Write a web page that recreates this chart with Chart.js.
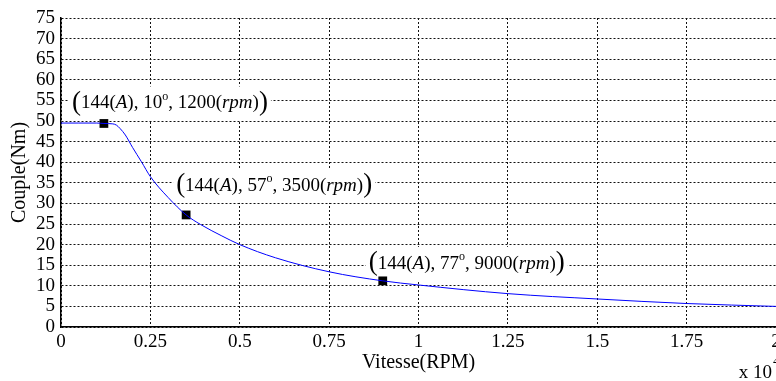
<!DOCTYPE html>
<html lang="fr">
<head>
    <meta charset="UTF-8">
    <title>Couple / Vitesse</title>
    <script src="https://cdn.jsdelivr.net/npm/chart.js@4.4.1/dist/chart.umd.min.js"></script>
    <style>
        body {
            margin: 0;
            background: #ffffff;
            overflow: hidden;
        }

        #wrap {
            position: relative;
            width: 800px;
            height: 381px;
        }
    </style>
</head>
<body>
    <div id="wrap"><canvas id="torqueChart"></canvas></div>

    <script>
        // torque / speed envelope (speed in rpm, torque in Nm)
        const curveRpm = [0, 500, 1000, 1200, 1450, 1550, 1650, 1800, 2000, 2250, 2500, 3000, 3500, 3900,
            4500, 5000, 6000, 7500, 9000, 10000, 12500, 15000, 17500, 20000];
        const curveTorque = [49.5, 49.5, 49.5, 49.4, 49.3, 49.0, 48.2, 46.6, 43.6, 40.1, 36.5, 31.4, 27.2, 24.9,
            22.1, 20.0, 16.8, 13.4, 11.2, 10.2, 8.1, 6.8, 5.7, 5.0];

        // operating points: current (A), angle (deg), speed (rpm), torque (Nm)
        const pointCurrent = [144, 144, 144];
        const pointAngle = [10, 57, 77];
        const pointRpm = [1200, 3500, 9000];
        const pointTorque = [49.4, 27.2, 11.2];

        const xTicks = [0, 0.25, 0.5, 0.75, 1, 1.25, 1.5, 1.75, 2];
        const yTicks = [0, 5, 10, 15, 20, 25, 30, 35, 40, 45, 50, 55, 60, 65, 70, 75];

        // label placement relative to each marker, in pixels
        const labelOffsets = [[-32, -20], [-10, -29], [-14, -17]];

        const SERIF = '"Liberation Serif", "Times New Roman", serif';

        const annotate = {
            id: 'annotate',
            beforeDatasetsDraw(chart) {
                const { ctx, scales: { x, y } } = chart;
                const body = '19px ' + SERIF;
                const ital = 'italic 19px ' + SERIF;
                const big = '27px ' + SERIF;
                const sup = '12px ' + SERIF;
                ctx.save();
                ctx.textBaseline = 'middle';
                pointRpm.forEach((rpm, i) => {
                    const px = x.getPixelForValue(rpm / 1e4);
                    const py = y.getPixelForValue(pointTorque[i]);
                    const left = px + labelOffsets[i][0];
                    const cy = py + labelOffsets[i][1];
                    const parts = [
                        { t: '(', f: big, r: -1 },
                        { t: pointCurrent[i] + '(', f: body },
                        { t: 'A', f: ital },
                        { t: '), ' + pointAngle[i], f: body },
                        { t: 'o', f: sup, r: -7 },
                        { t: ', ' + rpm + '(', f: body },
                        { t: 'rpm', f: ital },
                        { t: ')', f: body },
                        { t: ')', f: big, r: -1 }
                    ];
                    let w = 0;
                    parts.forEach(p => {
                        ctx.font = p.f;
                        p.w = ctx.measureText(p.t).width;
                        w += p.w;
                    });
                    ctx.fillStyle = '#ffffff';
                    ctx.fillRect(left - 3, cy - 17, w + 6, 34);
                    ctx.fillStyle = '#000000';
                    let cx = left;
                    parts.forEach(p => {
                        ctx.font = p.f;
                        ctx.fillText(p.t, cx, cy + (p.r || 0));
                        cx += p.w;
                    });
                });
                ctx.restore();
            },
            afterDraw(chart) {
                const { ctx, chartArea } = chart;
                ctx.save();
                ctx.fillStyle = '#000000';
                ctx.textBaseline = 'middle';
                ctx.textAlign = 'right';
                ctx.font = '19px ' + SERIF;
                ctx.fillText('x 10', chartArea.right - 4, 373);
                ctx.textAlign = 'left';
                ctx.font = '13px ' + SERIF;
                ctx.fillText('4', chartArea.right - 3, 362);
                ctx.restore();
            }
        };

        const ctx = document.getElementById('torqueChart').getContext('2d');
        new Chart(ctx, {
            type: 'scatter',
            data: {
                datasets: [{
                    type: 'line',
                    data: curveRpm.map((r, i) => ({ x: r / 1e4, y: curveTorque[i] })),
                    borderColor: '#0000ff',
                    borderWidth: 1,
                    pointRadius: 0,
                    cubicInterpolationMode: 'monotone',
                    fill: false
                }, {
                    data: pointRpm.map((r, i) => ({ x: r / 1e4, y: pointTorque[i] })),
                    pointStyle: 'rect',
                    pointRadius: 6.2,
                    backgroundColor: '#000000',
                    borderColor: '#000000',
                    borderWidth: 0
                }]
            },
            options: {
                responsive: true,
                maintainAspectRatio: false,
                animation: false,
                layout: {
                    padding: { top: 18, right: 24, bottom: 0, left: 0 }
                },
                plugins: {
                    legend: { display: false },
                    tooltip: { enabled: false }
                },
                scales: {
                    x: {
                        type: 'linear',
                        min: 0,
                        max: 2,
                        afterBuildTicks: scale => {
                            scale.ticks = xTicks.map(v => ({ value: v }));
                        },
                        afterFit: scale => { scale.height = 54; },
                        ticks: {
                            color: '#000000',
                            padding: 4,
                            maxRotation: 0,
                            autoSkip: false,
                            font: { family: SERIF, size: 19 },
                            callback: v => String(v)
                        },
                        grid: {
                            color: '#111111',
                            lineWidth: 1,
                            drawTicks: false
                        },
                        border: { display: true, color: '#000000', width: 1.5, dash: [2, 2] },
                        title: {
                            display: true,
                            text: 'Vitesse(RPM)',
                            color: '#000000',
                            padding: { top: 0, bottom: 6 },
                            font: { family: SERIF, size: 20 }
                        }
                    },
                    y: {
                        min: 0,
                        max: 75,
                        afterBuildTicks: scale => {
                            scale.ticks = yTicks.map(v => ({ value: v }));
                        },
                        afterFit: scale => { scale.width = 61; },
                        ticks: {
                            color: '#000000',
                            padding: 6,
                            autoSkip: false,
                            font: { family: SERIF, size: 19 }
                        },
                        grid: {
                            color: '#111111',
                            lineWidth: 1,
                            drawTicks: false
                        },
                        border: { display: true, color: '#000000', width: 1.5, dash: [2, 2] },
                        title: {
                            display: true,
                            text: 'Couple(Nm)',
                            color: '#000000',
                            padding: { top: 8, bottom: 0 },
                            font: { family: SERIF, size: 20 }
                        }
                    }
                }
            },
            plugins: [annotate]
        });
    </script>
</body>
</html>
